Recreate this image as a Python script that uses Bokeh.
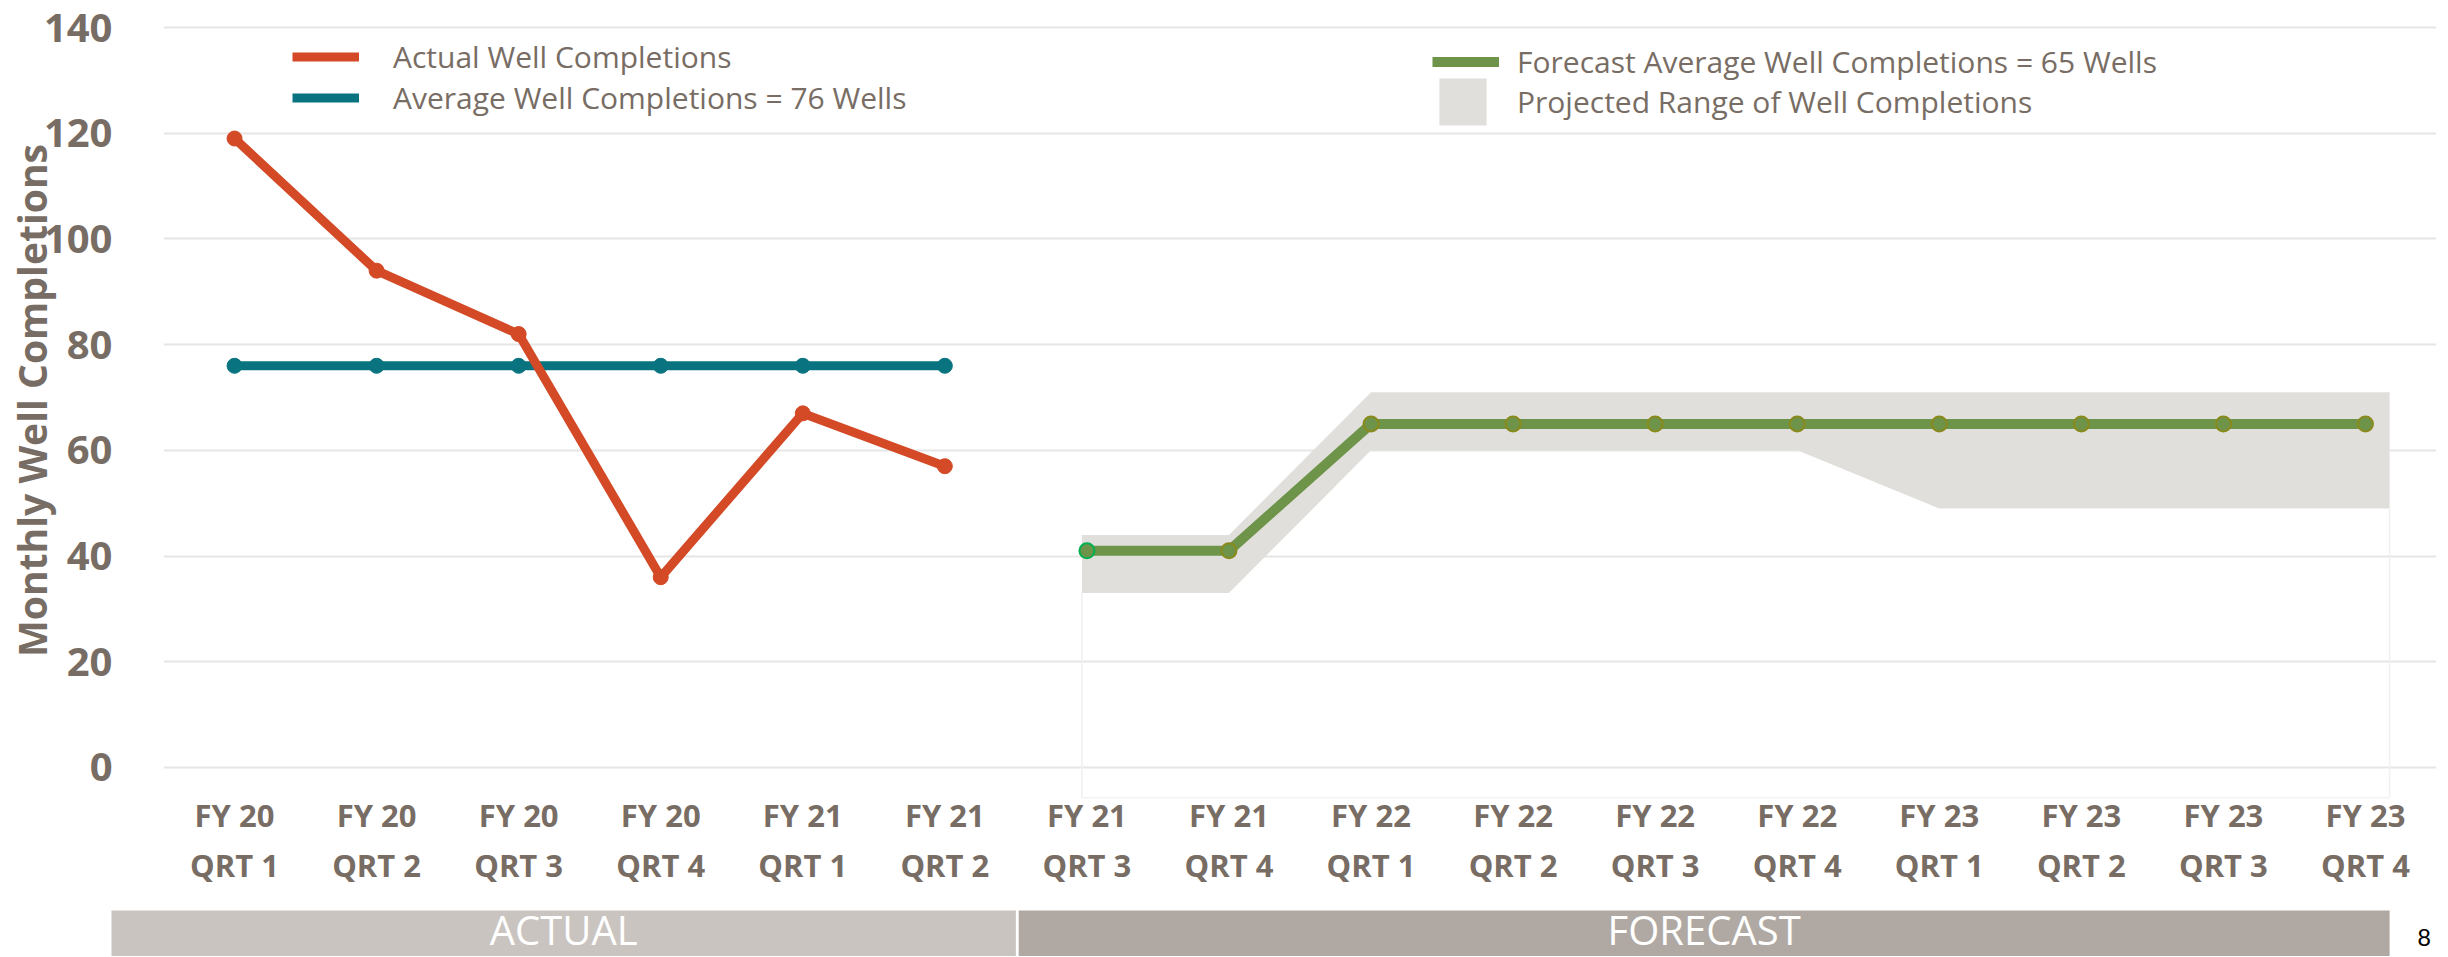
from bokeh.plotting import figure
from bokeh.models import FixedTicker, Range1d, Legend, LegendItem
from bokeh.layouts import column
from bokeh.embed import file_html
from bokeh.resources import INLINE
from bokeh.core.properties import value

# ---------------- data ----------------
quarters = ["FY 20\nQRT 1", "FY 20\nQRT 2", "FY 20\nQRT 3", "FY 20\nQRT 4",
            "FY 21\nQRT 1", "FY 21\nQRT 2", "FY 21\nQRT 3", "FY 21\nQRT 4",
            "FY 22\nQRT 1", "FY 22\nQRT 2", "FY 22\nQRT 3", "FY 22\nQRT 4",
            "FY 23\nQRT 1", "FY 23\nQRT 2", "FY 23\nQRT 3", "FY 23\nQRT 4"]
actual = [119, 94, 82, 36, 67, 57]
average = [76, 76, 76, 76, 76, 76]
forecast = [41, 41, 65, 65, 65, 65, 65, 65, 65, 65]
range_upper = [44, 44, 71, 71, 71, 71, 71, 71, 71, 71]
range_lower = [33, 33, 60, 60, 60, 60, 49, 49, 49, 49]
periods = ["ACTUAL", "FORECAST"]
y_ticks = [0, 20, 40, 60, 80, 100, 120, 140]
legend_labels = ["Actual Well Completions",
                 "Average Well Completions = 76 Wells",
                 "Forecast Average Well Completions = 65 Wells",
                 "Projected Range of Well Completions"]
page_number = ["8"]

# ---------------- style ----------------
FONT = "Open Sans"
TXT = "#786D64"
ORANGE = "#D44926"
TEAL = "#097480"
GREEN = "#6E9449"
OLIVE = "#8A8A1C"
BRIGHT = "#00B050"
BAND = "#E1DFDB"
GRID = "#E6E6E6"

FRAME_W, FRAME_H = 2273, 796
BORDER_L, BORDER_T, BORDER_B, BORDER_R = 163, 2, 98, 10
Y0, Y1 = -5.865, 144.73
X0, X1 = -0.5, len(quarters) - 0.5
PX = FRAME_W / (X1 - X0)
BAND_PAD_L, BAND_PAD_R = 0.035, 0.17

xa = list(range(len(actual)))
xf = list(range(len(actual), len(quarters)))

p = figure(frame_width=FRAME_W, frame_height=FRAME_H,
           x_range=Range1d(X0, X1), y_range=Range1d(Y0, Y1),
           min_border_left=BORDER_L, min_border_top=BORDER_T,
           min_border_bottom=BORDER_B, min_border_right=BORDER_R,
           toolbar_location=None, output_backend="svg",
           outline_line_color=None, background_fill_color="white",
           border_fill_color="white", frame_align=False)

# axes
p.xaxis.ticker = FixedTicker(ticks=list(range(len(quarters))))
p.xaxis.major_label_overrides = {i: q for i, q in enumerate(quarters)}
p.yaxis.ticker = FixedTicker(ticks=y_ticks)
for ax in (p.xaxis, p.yaxis):
    ax.axis_line_color = None
    ax.major_tick_line_color = None
    ax.minor_tick_line_color = None
    ax.major_label_text_color = TXT
    ax.major_label_text_font = FONT
    ax.major_label_text_font_style = "bold"
p.xaxis.major_label_text_font_size = "31px"
p.xaxis.major_label_standoff = -11
p.yaxis.major_label_text_font_size = "40px"
p.yaxis.major_label_standoff = 45
p.yaxis.axis_label = "Monthly Well Completions"
p.yaxis.axis_label_text_font = FONT
p.yaxis.axis_label_text_font_size = "39px"
p.yaxis.axis_label_text_font_style = "bold"
p.yaxis.axis_label_text_color = TXT
p.yaxis.axis_label_standoff = -17

p.xgrid.grid_line_color = None
p.ygrid.grid_line_color = GRID
p.ygrid.grid_line_width = 2
p.ygrid.ticker = FixedTicker(ticks=y_ticks)

# projected range band
band_x = [xf[0] - BAND_PAD_L] + xf[1:] + [xf[-1] + BAND_PAD_R]
band_up = range_upper[:] + [range_upper[-1]]
band_lo = range_lower[:] + [range_lower[-1]]
r_band = p.varea(x=band_x, y1=band_lo, y2=band_up, fill_color=BAND)

# faint plot-area outline of the forecast chart
p.line(x=[band_x[0], band_x[0], band_x[-1], band_x[-1]],
       y=[band_lo[0], Y0 + 0.1, Y0 + 0.1, band_lo[-1]],
       line_color="#F0F0F0", line_width=1.5)

# average
r_avg = p.line(xa, average, line_color=TEAL, line_width=9)
p.scatter(xa, average, size=15, fill_color=TEAL, line_color=TEAL)

# actual
r_act = p.line(xa, actual, line_color=ORANGE, line_width=9)
p.scatter(xa, actual, size=15, fill_color=ORANGE, line_color=ORANGE)

# forecast
r_fc = p.line(xf, forecast, line_color=GREEN, line_width=10)
outline = [BRIGHT] + [OLIVE] * (len(xf) - 1)
p.scatter(xf, forecast, size=15, fill_color=GREEN, line_color=outline,
          line_width=2)

# legends
frame_bottom_abs = BORDER_T + FRAME_H
frame_left_abs = BORDER_L


def make_legend(items, left_abs, bottom_abs, gw, gh, standoff):
    lg = Legend(items=items,
                location=(left_abs - frame_left_abs, frame_bottom_abs - bottom_abs),
                orientation="vertical",
                glyph_width=gw, glyph_height=gh, label_height=gh,
                label_standoff=standoff, spacing=0, padding=0, margin=0,
                background_fill_alpha=0, border_line_alpha=0,
                label_text_font=FONT, label_text_font_size="30px",
                label_text_color=TXT)
    p.add_layout(lg, "center")


make_legend([LegendItem(label=legend_labels[0], renderers=[r_act]),
             LegendItem(label=legend_labels[1], renderers=[r_avg])],
            292, 117.5, 67, 39, 34)
make_legend([LegendItem(label=legend_labels[2], renderers=[r_fc])],
            1432, 81.5, 67, 39, 18)
make_legend([LegendItem(label=legend_labels[3], renderers=[r_band])],
            1433, 131, 59, 59, 25)

# ---------------- period strip ----------------
FIG_W = BORDER_L + FRAME_W + BORDER_R
MAIN_H = BORDER_T + FRAME_H + BORDER_B
STRIP_H = 956 - MAIN_H
STRIP_TOP_ABS = 910
strip_top = (956 - STRIP_TOP_ABS) / STRIP_H
sx0 = X0 - BORDER_L / PX
sx1 = X1 + BORDER_R / PX
s = figure(width=FIG_W, height=STRIP_H, x_range=Range1d(sx0, sx1),
           y_range=Range1d(0, 1), min_border=0, toolbar_location=None,
           output_backend="svg", outline_line_color=None,
           x_axis_location=None, y_axis_location=None, frame_align=False)
s.xgrid.grid_line_color = None
s.ygrid.grid_line_color = None
split = len(actual) - 0.5
p_left = [X0 - 0.366, split + 0.02]
p_right = [split, band_x[-1]]
s.quad(left=p_left, right=p_right, bottom=-0.5, top=strip_top,
       fill_color=["#C9C4BF", "#B0A9A3"], line_color=None)
s.text(x=[(a + b) / 2 for a, b in zip(p_left, p_right)],
       y=[(956 - 929) / STRIP_H] * 2,
       text=periods, text_font=value(FONT), text_font_size="40px",
       text_color="white", text_align="center", text_baseline="middle")
s.text(x=[X0 + (2417 - BORDER_L) / PX], y=[(956 - 937) / STRIP_H],
       text=page_number,
       text_font=value("Liberation Sans"), text_font_size="24px",
       text_color="black", text_align="left", text_baseline="middle")

layout = column(p, s, spacing=0)
open("out.html", "w").write(file_html(layout, INLINE))
